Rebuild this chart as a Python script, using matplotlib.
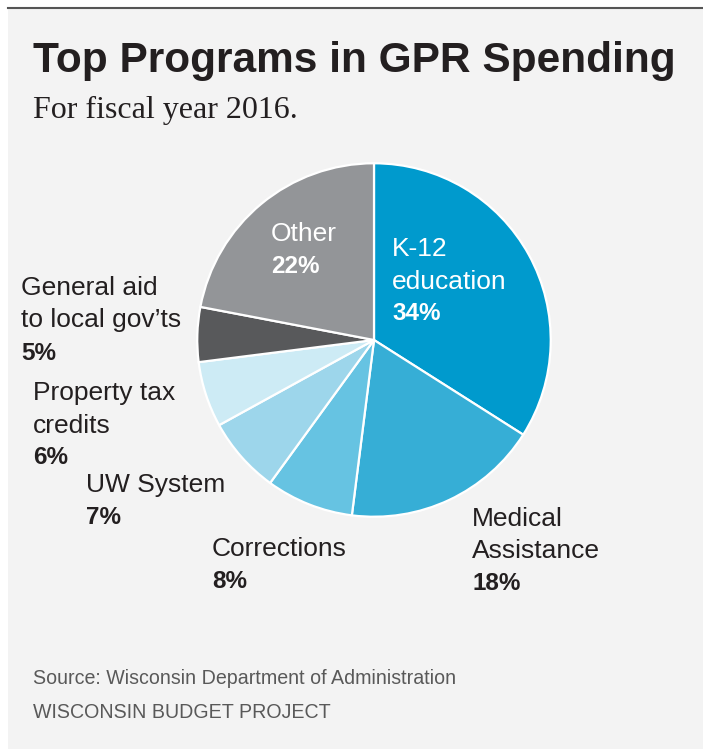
import matplotlib
matplotlib.use('Agg')
import matplotlib.pyplot as plt
from matplotlib.lines import Line2D
from matplotlib.patches import Rectangle

W, H = 703, 749

programs = ['K-12\neducation', 'Medical\nAssistance', 'Corrections', 'UW System',
            'Property tax\ncredits', 'General aid\nto local gov\u2019ts', 'Other']
shares = [34, 18, 8, 7, 6, 5, 22]
colors = ['#009acd', '#36aed6', '#66c3e2', '#9dd6eb', '#cdebf5', '#58595b', '#939598']

# label anchor (left x, top-line centre y) in pixels, and text colour
label_pos = [(392, 249), (472, 519), (212, 549), (86, 485), (33, 393), (21, 288), (271, 234)]
label_col = ['white', '#231f20', '#231f20', '#231f20', '#231f20', '#231f20', 'white']

title = 'Top Programs in GPR Spending'
subtitle = 'For fiscal year 2016.'
source = 'Source: Wisconsin Department of Administration'
credit = 'WISCONSIN BUDGET PROJECT'


def fx(x):
    return x / W


def fy(y):
    return 1 - y / H


fig = plt.figure(figsize=(W / 100, H / 100), dpi=100, facecolor='white')

# grey panel and top rule
fig.patches.append(Rectangle((fx(8), 0), 1 - fx(8), fy(8), transform=fig.transFigure,
                             facecolor='#f3f3f3', edgecolor='none', zorder=-5))
fig.lines.append(Line2D([fx(8), 1], [fy(7.5), fy(7.5)], transform=fig.transFigure,
                        color='#555555', linewidth=1.5, zorder=-4))

# pie
cx, cy, r = 374, 340, 178.5
ax = fig.add_axes([fx(cx - r), fy(cy + r), 2 * r / W, 2 * r / H], zorder=2)
ax.pie(shares, colors=colors, startangle=90, counterclock=False, radius=1,
       wedgeprops=dict(edgecolor='white', linewidth=1.6))
ax.set_xlim(-1.01, 1.01)
ax.set_ylim(-1.01, 1.01)
ax.set_aspect('auto')
ax.axis('off')

fig.text(fx(33), fy(61), title, fontsize=30.5, fontweight='bold', family='Liberation Sans',
         color='#231f20', va='center')
fig.text(fx(33), fy(110), subtitle, fontsize=23, family='Liberation Serif',
         color='#231f20', va='center')

line_h = 32.5
for name, pct, (x, y), c in zip(programs, shares, label_pos, label_col):
    lines = name.split('\n')
    for i, ln in enumerate(lines):
        fig.text(fx(x), fy(y + i * line_h), ln, fontsize=19, family='Liberation Sans',
                 color=c, va='center', zorder=5)
    fig.text(fx(x), fy(y + len(lines) * line_h), '%d%%' % pct, fontsize=17.5,
             fontweight='bold', family='Liberation Sans', color=c, va='center', zorder=5)

fig.text(fx(33), fy(679), source, fontsize=14.1, family='Liberation Sans',
         color='#595959', va='center')
fig.text(fx(33), fy(713), credit, fontsize=14.1, family='Liberation Sans',
         color='#595959', va='center')

fig.savefig('out.png', dpi=100, facecolor='white')
